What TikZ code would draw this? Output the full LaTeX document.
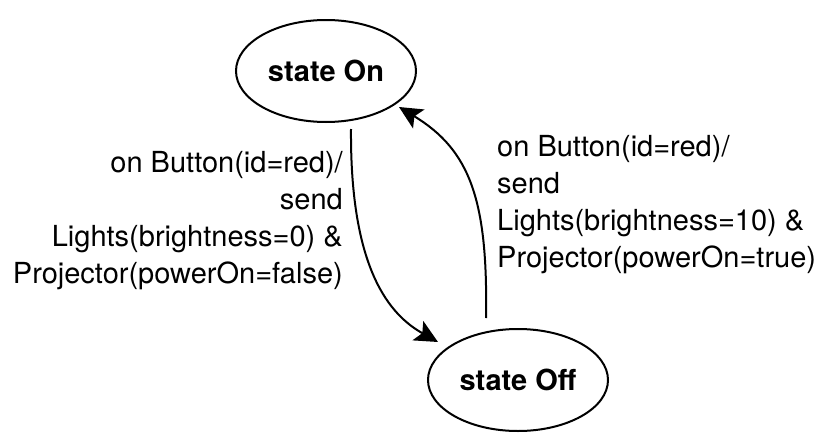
\documentclass[tikz,border=0pt]{standalone}
\usepackage{fontspec}
\setmainfont{TeX Gyre Heros}
\usetikzlibrary{shapes.geometric,arrows.meta,calc}
\tikzset{
  state/.style={draw, ellipse, line width=2pt, minimum width=180pt, minimum height=102pt, inner sep=0pt, font=\fontsize{29}{37}\selectfont\bfseries},
  arr/.style={line width=2pt, -{Stealth[length=23pt,width=22pt,inset=5pt]}},
  lbl/.style={inner sep=0pt, font=\fontsize{29}{37}\selectfont}
}
\begin{document}
\begin{tikzpicture}[x=1pt,y=-1pt]
\useasboundingbox (0,0) rectangle (833,434);
\node[state] (on) at (326,71) {state On};
\node[state] (off) at (518,380) {state Off};
\draw[arr] ($(on.south)+(25,6)$) .. controls (350,270) and (390,315) .. ($(off.north)+(-80,14)$);
\draw[arr] ($(off.north)+(-32,-10)$) .. controls (488,200) and (470,150) .. ($(on.east)+(-18,36)$);
\node[lbl, align=right, anchor=east] (l1) at (343,221) {on Button(id=red)/\\send\\Lights(brightness=0) \&\\Projector(powerOn=false)};
\node[lbl, align=left, anchor=west] (l2) at (497,205) {on Button(id=red)/\\send\\Lights(brightness=10) \&\\Projector(powerOn=true)};
\end{tikzpicture}
\end{document}
